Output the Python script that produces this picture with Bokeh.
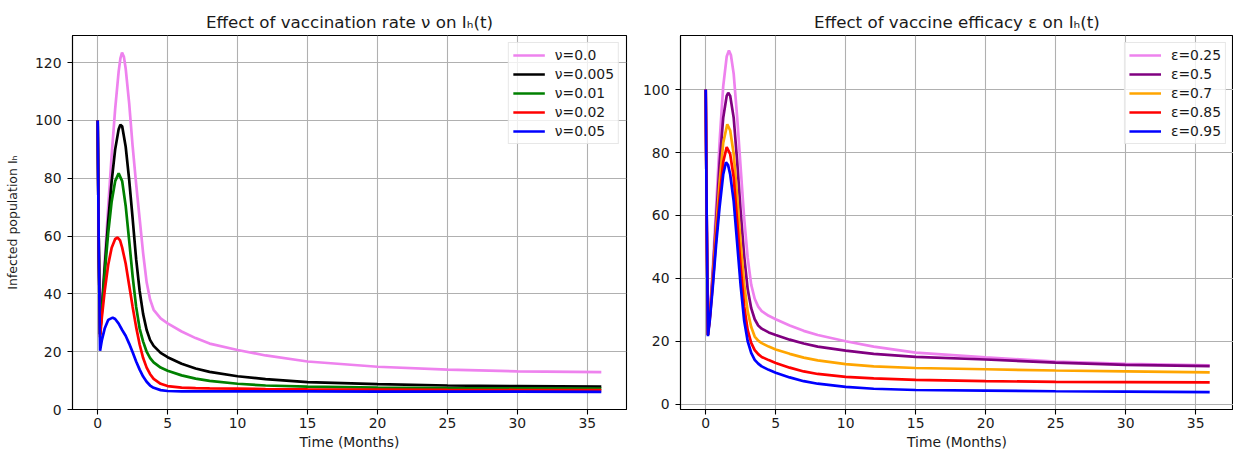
from bokeh.plotting import figure
from bokeh.layouts import row
from bokeh.models import Range1d, FixedTicker
from bokeh.embed import file_html
from bokeh.resources import INLINE

FONT = "DejaVu Sans"

# ---------------- data ----------------
X_TICKS = [0, 5, 10, 15, 20, 25, 30, 35]
Y_TICKS_LEFT = [0, 20, 40, 60, 80, 100, 120]
Y_TICKS_RIGHT = [0, 20, 40, 60, 80, 100]

TITLE_LEFT = "Effect of vaccination rate ν on Iₕ(t)"
TITLE_RIGHT = "Effect of vaccine efficacy ε on Iₕ(t)"
X_LABEL = "Time (Months)"
Y_LABEL = "Infected population Iₕ"

NU_LABELS = ["ν=0.0", "ν=0.005", "ν=0.01", "ν=0.02", "ν=0.05"]
NU_COLORS = ["violet", "black", "green", "red", "blue"]

NU0_T = [0, 0.08, 0.17, 0.3, 0.5, 0.75, 1.0, 1.25, 1.5, 1.625, 1.74, 1.875, 2.0, 2.25, 2.5, 2.75,
         3.0, 3.25, 3.5, 3.75, 4.0, 4.5, 5, 6, 7, 8, 10, 12, 15, 20, 25, 30, 36]
NU0_I = [100, 55, 26, 36, 51, 70, 88, 104, 117, 121.5, 123.5, 122, 118, 106, 91, 78,
         66, 54, 44, 38, 34.5, 31.5, 29.8, 27, 24.7, 22.8, 20.6, 18.7, 16.6, 14.8, 13.8, 13.2, 12.9]

NU1_T = [0, 0.08, 0.17, 0.3, 0.5, 0.75, 1.0, 1.25, 1.5, 1.62, 1.75, 2.0, 2.25, 2.5, 2.75,
         3.0, 3.25, 3.5, 3.75, 4.0, 4.5, 5, 6, 7, 8, 10, 12, 15, 20, 25, 30, 36]
NU1_I = [100, 55, 26, 35, 49, 65, 79, 90, 97, 98.5, 98, 91, 79.5, 66, 52,
         41, 33, 27.5, 24, 22, 19.6, 18.1, 15.8, 14.2, 13, 11.5, 10.5, 9.5, 8.8, 8.3, 8.1, 7.9]

NU2_T = [0, 0.08, 0.17, 0.3, 0.5, 0.75, 1.0, 1.25, 1.5, 1.75, 2.0, 2.25, 2.5, 2.75,
         3.0, 3.25, 3.5, 3.75, 4.0, 4.5, 5, 6, 7, 8, 10, 12, 15, 20, 25, 30, 36]
NU2_I = [100, 55, 26, 34, 47, 61, 72, 79, 81.7, 79, 70.5, 58.5, 46, 35.5,
         28, 23.5, 20, 17.8, 16.3, 14.5, 13.4, 11.8, 10.7, 9.9, 8.9, 8.3, 7.9, 7.6, 7.4, 7.3, 7.2]

NU3_T = [0, 0.08, 0.17, 0.3, 0.5, 0.75, 1.0, 1.25, 1.43, 1.6, 1.75, 2.0, 2.25, 2.5, 2.75,
         3.0, 3.25, 3.5, 3.75, 4.0, 4.5, 5, 6, 7, 8, 10, 12, 15, 20, 25, 30, 36]
NU3_I = [100, 55, 25, 32, 41, 50, 56, 59, 59.5, 58.5, 56, 50.5, 43, 35.5, 28.5,
         22.5, 17.8, 14.5, 12.2, 10.6, 8.9, 8.1, 7.6, 7.4, 7.3, 7.2, 7.1, 7.0, 6.9, 6.8, 6.75, 6.7]

NU4_T = [0, 0.08, 0.17, 0.3, 0.5, 0.75, 1.07, 1.25, 1.5, 1.75, 2.0, 2.25, 2.5, 2.75,
         3.0, 3.25, 3.5, 3.75, 4.0, 4.5, 5, 6, 8, 10, 15, 20, 25, 30, 36]
NU4_I = [100, 55, 20.3, 24, 28, 31, 31.8, 31.3, 29.7, 27.5, 25.5, 22.8, 19.8, 16.6,
         13.8, 11.4, 9.6, 8.3, 7.5, 6.7, 6.4, 6.3, 6.3, 6.3, 6.3, 6.2, 6.2, 6.2, 6.1]

EPS_LABELS = ["ε=0.25", "ε=0.5", "ε=0.7", "ε=0.85", "ε=0.95"]
EPS_COLORS = ["violet", "purple", "orange", "red", "blue"]

EPS0_T = [0, 0.08, 0.16, 0.3, 0.5, 0.75, 1.0, 1.25, 1.5, 1.66, 1.8, 2.0, 2.25, 2.5, 2.75,
          3.0, 3.25, 3.5, 3.75, 4.0, 4.5, 5, 6, 7, 8, 10, 12, 15, 20, 25, 30, 36]
EPS0_I = [100, 55, 22, 29, 43, 63, 84, 101, 110.5, 112.4, 111, 105, 91, 75, 59,
          46.5, 38, 33.5, 31, 29.6, 28.1, 27, 25, 23.3, 22, 20, 18.3, 16.4, 14.9, 13.5, 12.8, 12.3]

EPS1_T = [0, 0.08, 0.16, 0.3, 0.5, 0.75, 1.0, 1.25, 1.5, 1.61, 1.75, 2.0, 2.25, 2.5, 2.75,
          3.0, 3.25, 3.5, 3.75, 4.0, 4.5, 5, 6, 7, 8, 10, 12, 15, 20, 25, 30, 36]
EPS1_I = [100, 55, 22, 28.5, 41, 59, 77, 91, 98, 99, 98, 91, 77, 61, 47,
          36.5, 30.5, 27, 25, 24, 22.8, 22, 20.5, 19.3, 18.3, 17, 16, 15, 14.2, 13.2, 12.5, 12.1]

EPS2_T = [0, 0.08, 0.16, 0.3, 0.5, 0.75, 1.0, 1.25, 1.54, 1.75, 2.0, 2.25, 2.5, 2.75,
          3.0, 3.25, 3.5, 3.75, 4.0, 4.5, 5, 6, 7, 8, 10, 12, 15, 20, 25, 30, 36]
EPS2_I = [100, 55, 22, 28, 39.5, 56, 71, 83, 89, 87, 79.5, 66, 51, 38,
          29.5, 24.5, 21.5, 20.2, 19.4, 18.3, 17.4, 16, 14.8, 13.9, 12.7, 12, 11.5, 11.1, 10.7, 10.4, 10.1]

EPS3_T = [0, 0.08, 0.16, 0.3, 0.5, 0.75, 1.0, 1.25, 1.5, 1.75, 2.0, 2.25, 2.5, 2.75,
          3.0, 3.25, 3.5, 3.75, 4.0, 4.5, 5, 6, 7, 8, 10, 12, 15, 20, 25, 30, 36]
EPS3_I = [100, 55, 22, 27.5, 38, 53, 66, 77, 81.7, 79.5, 72, 58, 43.5, 31,
          23.5, 19.5, 17.2, 15.9, 15, 14, 13.1, 11.6, 10.4, 9.6, 8.7, 8.2, 7.7, 7.3, 7.1, 7.0, 6.9]

EPS4_T = [0, 0.08, 0.16, 0.3, 0.5, 0.75, 1.0, 1.25, 1.45, 1.6, 1.75, 2.0, 2.25, 2.5, 2.75,
          3.0, 3.25, 3.5, 3.75, 4.0, 4.5, 5, 6, 7, 8, 10, 12, 15, 20, 25, 30, 36]
EPS4_I = [100, 55, 21.6, 27, 37, 51, 63, 73, 76.9, 76, 73, 64.5, 51, 37.5, 26.5,
          20, 16.3, 14.1, 12.9, 12, 10.9, 10, 8.5, 7.3, 6.5, 5.5, 4.9, 4.5, 4.3, 4.1, 4.0, 3.8]

NU_SERIES = [(NU0_T, NU0_I), (NU1_T, NU1_I), (NU2_T, NU2_I), (NU3_T, NU3_I), (NU4_T, NU4_I)]
EPS_SERIES = [(EPS0_T, EPS0_I), (EPS1_T, EPS1_I), (EPS2_T, EPS2_I), (EPS3_T, EPS3_I), (EPS4_T, EPS4_I)]


def style(p, yticks):
    p.xaxis.ticker = FixedTicker(ticks=X_TICKS)
    p.yaxis.ticker = FixedTicker(ticks=yticks)
    for ax in (p.xaxis[0], p.yaxis[0]):
        ax.major_tick_out = 5
        ax.major_tick_in = 0
        ax.minor_tick_out = 0
        ax.minor_tick_in = 0
        ax.axis_line_color = "black"
        ax.axis_line_width = 1.1
        ax.major_tick_line_color = "black"
        ax.major_tick_line_width = 1.1
        ax.major_label_text_font = FONT
        ax.major_label_text_font_size = "13.9px"
        ax.major_label_text_color = "#1a1a1a"
        ax.axis_label_text_font = FONT
        ax.axis_label_text_font_style = "normal"
        ax.axis_label_text_color = "#1a1a1a"
    p.xaxis.major_label_standoff = 3
    p.xaxis.axis_label_standoff = 3
    p.xaxis.axis_label_text_font_size = "13.9px"
    p.yaxis.major_label_standoff = 6
    p.grid.grid_line_color = "#b0b0b0"
    p.grid.grid_line_width = 1.1
    p.outline_line_color = "black"
    p.outline_line_width = 1.1
    p.outline_line_alpha = 1.0
    p.title.text_font = FONT
    p.title.text_font_size = "16.7px"
    p.title.text_font_style = "normal"
    p.title.text_color = "#1a1a1a"
    p.title.align = "center"
    p.title.standoff = 7
    p.background_fill_color = "white"
    p.border_fill_color = "white"


def add_lines(p, series, labels, colors):
    for (t, v), lab, col in zip(series, labels, colors):
        p.line(t, v, line_color=col, line_width=2.7, legend_label=lab)
    lg = p.legend[0]
    lg.location = "top_right"
    lg.margin = 7
    lg.padding = 4
    lg.spacing = 3
    lg.glyph_width = 32
    lg.glyph_height = 16
    lg.label_height = 16
    lg.label_standoff = 10
    lg.label_text_font = FONT
    lg.label_text_font_size = "13.9px"
    lg.label_text_color = "#1a1a1a"
    lg.border_line_color = "#d0d0d0"
    lg.border_line_width = 1
    lg.background_fill_alpha = 0.8


H = 452
left = figure(width=628, height=H, output_backend="svg", toolbar_location=None,
              title=TITLE_LEFT, x_range=Range1d(-1.8, 37.8), y_range=Range1d(0, 129.4),
              min_border_left=72, min_border_right=2, min_border_top=35, min_border_bottom=42,
              x_axis_label=X_LABEL, y_axis_label=Y_LABEL)
style(left, Y_TICKS_LEFT)
left.yaxis.axis_label_text_font_size = "12.5px"
left.yaxis.axis_label_standoff = 12
add_lines(left, NU_SERIES, NU_LABELS, NU_COLORS)

right = figure(width=605, height=H, output_backend="svg", toolbar_location=None,
               title=TITLE_RIGHT, x_range=Range1d(-1.8, 37.7), y_range=Range1d(-1.7, 117.2),
               min_border_left=52, min_border_right=0, min_border_top=35, min_border_bottom=42,
               x_axis_label=X_LABEL)
style(right, Y_TICKS_RIGHT)
add_lines(right, EPS_SERIES, EPS_LABELS, EPS_COLORS)

page = row(left, right)
open("out.html", "w").write(file_html(page, INLINE))
